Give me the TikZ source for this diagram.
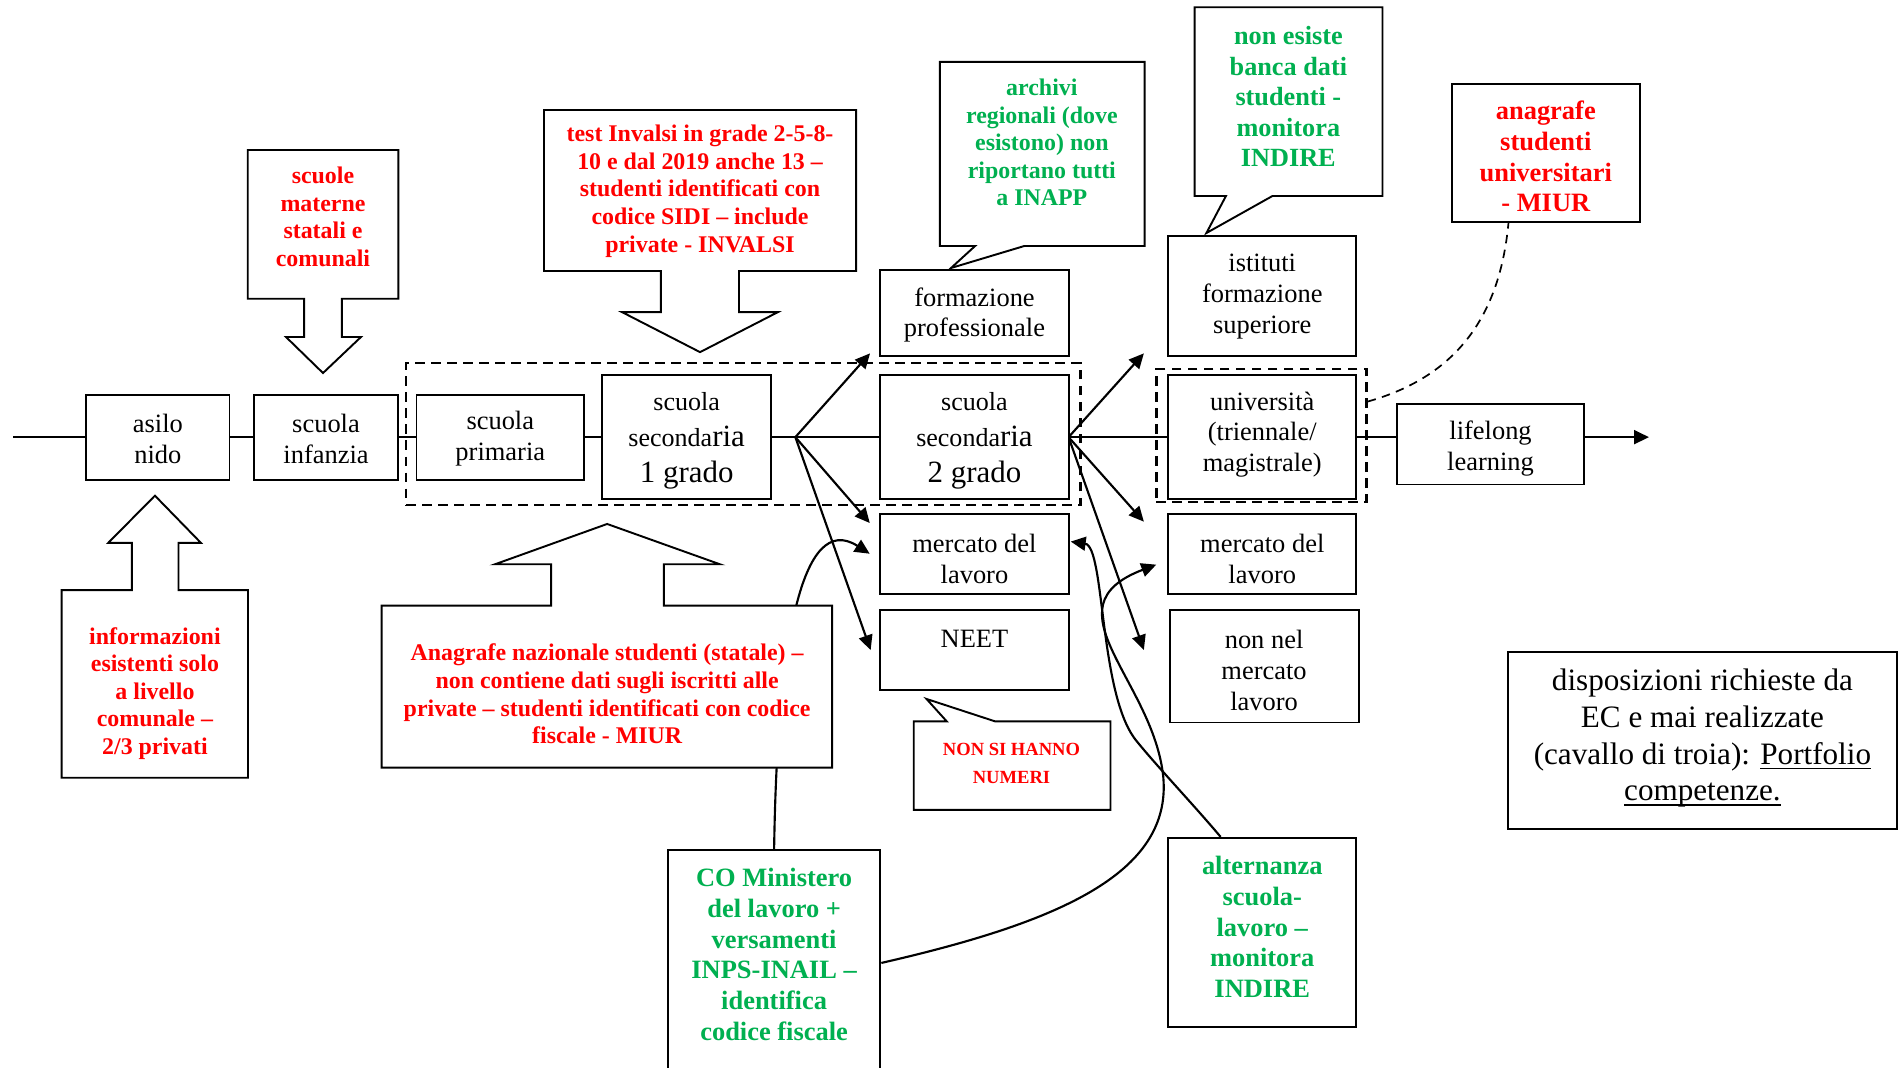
\documentclass[tikz,border=0pt]{standalone}
\usepackage{fontspec}
\setmainfont{Liberation Serif}
\usetikzlibrary{arrows.meta,fit,calc,backgrounds}
\definecolor{myred}{HTML}{FF0000}
\definecolor{mygreen}{HTML}{00B050}
\newsavebox\ulbox
\newcommand\uln[1]{\leavevmode\sbox\ulbox{#1}\rlap{\rule[-2.3pt]{\wd\ulbox}{0.7pt}}\usebox\ulbox}
\tikzset{
  box/.style={draw, line width=0.9pt, fill=white, inner sep=0pt},
  dbox/.style={draw, line width=1.1pt, dash pattern=on 4.5pt off 3pt, inner sep=0pt},
  callout/.style={draw, line width=0.9pt, fill=white, line join=miter},
  conn/.style={line width=1pt},
  arr/.style={conn, -{Triangle[length=7pt,width=6.5pt]}},
  blk/.style={align=center, inner sep=0pt, yshift=-1.1pt, font=\fontsize{12.4}{14.5}\selectfont},
  secfont/.style={align=center, inner sep=0pt, yshift=-1.7pt, font=\fontsize{12.2}{16.7}\selectfont},
  rtxt/.style={align=center, text=myred, inner sep=0pt, font=\bfseries\fontsize{11.2}{12.9}\selectfont},
  rtxtbig/.style={align=center, text=myred, inner sep=0pt, font=\bfseries\fontsize{12.4}{14.4}\selectfont},
  gtxt/.style={align=center, text=mygreen, inner sep=0pt, font=\bfseries\fontsize{11.2}{12.9}\selectfont},
  gtxtbig/.style={align=center, text=mygreen, inner sep=0pt, font=\bfseries\fontsize{12.4}{14.4}\selectfont},
}
\begin{document}
\begin{tikzpicture}[x=0.02cm,y=-0.02cm]
\useasboundingbox (0,0) rectangle (1568,879);
\clip (0,0) rectangle (1568,879);

% dashed groups
\node[dbox, fit={(334.4,299)(889.7,416)}] (dash1) {};
\node[dbox, fit={(952.3,304)(1125.3,413.4)}] (dash2) {};

% main boxes
\node[box,fit={(71,325)(189,395)}] (asilo) {};
\node[blk] (asilot) at (130,359.5) {asilo\\nido};
\node[box,fit={(209,325)(328,395)}] (infanzia) {};
\node[blk] (infanziat) at (268.5,359.5) {scuola\\infanzia};
\node[box,fit={(343,325)(481,395)}] (primaria) {};
\node[blk] (primariat) at (412,359.5) {scuola\\primaria};
\node[box,fit={(496,309)(635,411)}] (sec1) {};
\node[secfont] (sec1t) at (565.5,360) {scuola\\seconda{\fontsize{14.5}{16.7}\selectfont ria}\\{\fontsize{14.5}{16.7}\selectfont 1 grado}};
\node[box,fit={(725,222)(880,293)}] (formaz) {};
\node[blk] (formazt) at (802.5,257.5) {formazione\\professionale};
\node[box,fit={(725,309)(880,411)}] (sec2) {};
\node[secfont] (sec2t) at (802.5,360) {scuola\\seconda{\fontsize{14.5}{16.7}\selectfont ria}\\{\fontsize{14.5}{16.7}\selectfont 2 grado}};
\node[box,fit={(725,423)(880,489)}] (mer1) {};
\node[blk] (mer1t) at (802.5,458) {mercato del\\lavoro};
\node[box,fit={(725,502)(880,568)}] (neet) {};
\node[blk] (neett) at (802.5,524) {NEET};
\node[box,fit={(962,194)(1117,293)}] (ist) {};
\node[blk] (istt) at (1039.5,242) {istituti\\formazione\\superiore};
\node[box,fit={(962,309)(1117,411)}] (univ) {};
\node[blk] (univt) at (1039.5,356) {università\\(triennale/\\magistrale)};
\node[box,fit={(962,423)(1117,489)}] (mer2) {};
\node[blk] (mer2t) at (1039.5,458) {mercato del\\lavoro};
\node[box,fit={(963.5,502)(1119,595)}] (nonnel) {};
\node[blk] (nonnelt) at (1041,550) {non nel\\mercato\\lavoro};
\node[box,fit={(1150.5,333)(1304.5,399)}] (life) {};
\node[blk] (lifet) at (1227.5,367.5) {lifelong\\learning};
\node[box,fit={(1196,69)(1350.5,183)}] (anag) {};
\node[rtxtbig] (anagt) at (1273,129) {anagrafe\\studenti\\universitari\\- MIUR};
\node[box,fit={(550,700)(725,886)}] (co) {};
\node[gtxtbig] (cot) at (637.5,786) {CO Ministero\\del lavoro +\\versamenti\\INPS-INAIL –\\identifica\\codice fiscale};
\node[box,fit={(962,690)(1117,845.5)}] (alt) {};
\node[gtxtbig] (altt) at (1039.5,763.5) {alternanza\\scuola-\\lavoro –\\monitora\\INDIRE};
\node[box,fit={(1241.6,536.7)(1562,682.7)}] (disp) {};
\node[align=center, inner sep=0pt, font=\fontsize{14.6}{17.2}\selectfont] (dispt) at (1402,608) {disposizioni richieste da\\EC e mai realizzate\\(cavallo di troia): \uln{Portfolio}\\\uln{competenze.}};

% callouts
\draw[callout] (204,123.5) -- (328,123.5) -- (328,246) -- (281.6,246) -- (281.6,277.5) -- (297.3,277.5) -- (266,307.2) -- (235.5,277.5) -- (250.4,277.5) -- (250.4,246) -- (204,246) -- cycle;
\node[rtxt] (materne) at (266,178.5) {scuole\\materne\\statali e\\comunali};

\draw[callout] (448,90.6) -- (705,90.6) -- (705,223.2) -- (608.6,223.2) -- (608.6,257) -- (640.7,257) -- (576.5,290) -- (512.2,257) -- (544.3,257) -- (544.3,223.2) -- (448,223.2) -- cycle;
\node[rtxt, font=\bfseries\fontsize{11.2}{13.1}\selectfont] (invalsi) at (576.5,157.5) {test Invalsi in grade 2-5-8-\\10 e dal 2019 anche 13 –\\studenti identificati con\\codice SIDI – include\\private - INVALSI};

\draw[callout] (774,51) -- (942.6,51) -- (942.6,202.6) -- (843.5,202.6) -- (783.2,220.7) -- (803,202.6) -- (774,202.6) -- cycle;
\node[gtxt] (archivi) at (858,117.5) {archivi\\regionali (dove\\esistono) non\\riportano tutti\\a INAPP};

\draw[callout] (983.8,6) -- (1138.5,6) -- (1138.5,161.4) -- (1047.9,161.4) -- (993.5,191.9) -- (1009.6,161.4) -- (983.8,161.4) -- cycle;
\node[gtxt, font=\bfseries\fontsize{12.3}{14.3}\selectfont] (nonesiste) at (1061,79.5) {non esiste\\banca dati\\studenti -\\monitora\\INDIRE};

\draw[callout] (50.8,640.5) -- (50.8,486) -- (108.6,486) -- (108.6,447) -- (89.2,447) -- (127.6,408.2) -- (165.4,447) -- (147,447) -- (147,486) -- (204.2,486) -- (204.2,640.5) -- cycle;
\node[rtxt] (informazioni) at (127.6,571) {informazioni\\esistenti solo\\a livello\\comunale –\\2/3 privati};

\draw[callout] (314.3,632.2) -- (314.3,498.8) -- (453.8,498.8) -- (453.8,464.7) -- (407.6,464.7) -- (500,431.5) -- (592.9,464.7) -- (546.7,464.7) -- (546.7,498.8) -- (685.3,498.8) -- (685.3,632.2) -- cycle;
\node[rtxt] (anagnaz) at (500,571.5) {Anagrafe nazionale studenti (statale) –\\non contiene dati sugli iscritti alle\\private – studenti identificati con codice\\fiscale - MIUR};

\draw[callout] (752.5,594) -- (779.6,594) -- (763,575.6) -- (819.3,594) -- (914.5,594) -- (914.5,667) -- (752.5,667) -- cycle;
\node[rtxt, font=\bfseries\fontsize{8.7}{13}\selectfont] (nonsi) at (833,629) {NON SI HANNO\\NUMERI};

% connectors
\begin{scope}[on background layer]
\coordinate (start) at (11,360);
\coordinate (b1) at (655,360);
\coordinate (b2) at (880,360);
\coordinate (endc) at (1358,360);
\draw[conn] (start) -- (asilo);
\draw[conn] (asilo) -- (infanzia);
\draw[conn] (infanzia) -- (primaria);
\draw[conn] (primaria) -- (sec1);
\draw[conn] (sec1) -- (sec2);
\draw[conn] (sec2) -- (univ);
\draw[conn] (univ.east) -- (univ.east -| life.west);
\draw[arr] (univ.east -| life.east) -- (endc);

\coordinate (t1a) at (716.5,291);
\coordinate (t1b) at (716.3,430.7);
\coordinate (t1c) at (717,535.4);
\draw[arr] (b1) -- (t1a);
\draw[arr] (b1) -- (t1b);
\draw[arr] (b1) -- (t1c);
\coordinate (t2a) at (942,291);
\coordinate (t2b) at (942,429.6);
\coordinate (t2c) at (942,535.3);
\draw[arr] (b2) -- (t2a);
\draw[arr] (b2) -- (t2b);
\draw[arr] (b2) -- (t2c);

\draw[arr] (co.north) .. controls (640,530) and (660,420) .. ($(mer1.west)+(-8,0)$);
\draw[arr] ($(alt.north west)+(44,0)$) .. controls (985,665) and (950,628) .. (935,609) .. controls (905,570) and (910,450) .. ($(mer1.east)+(1,-10)$);
\draw[arr] (co.east) .. controls (870,760) and (965,720) .. (958,640) .. controls (950,560) and (860,500) .. ($(mer2.west)+(-9,9)$);
\draw[line width=0.8pt, dash pattern=on 4pt off 3pt] ($(dash2.east)+(0,-28)$) .. controls (1200,310) and (1235,260) .. ($(anag.south)+(-31,0)$);
\end{scope}
\end{tikzpicture}
\end{document}
